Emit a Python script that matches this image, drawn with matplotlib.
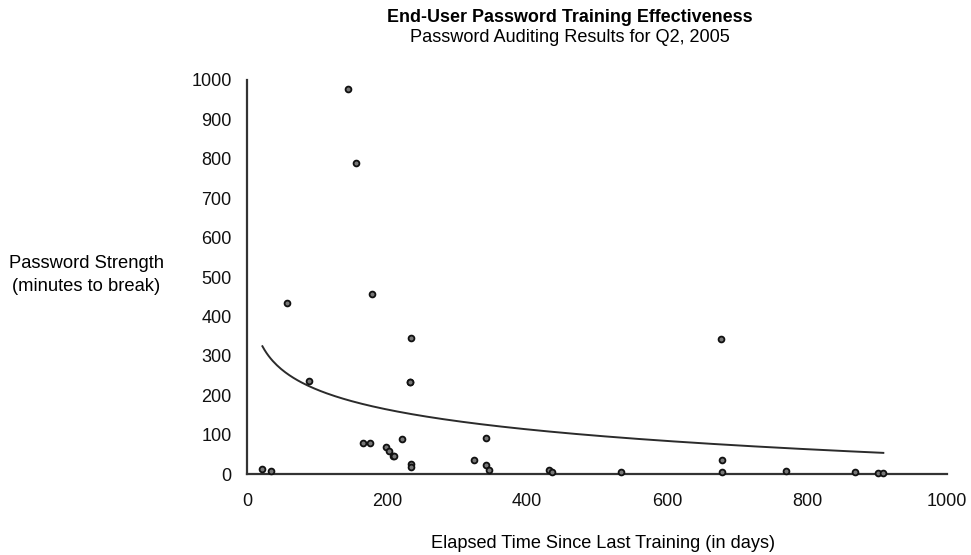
import matplotlib

matplotlib.use("Agg")
import matplotlib.pyplot as plt
import numpy as np

# elapsed days since last training, and minutes to break the password
days = [22, 34, 57, 88, 144, 156, 166, 176, 178, 199, 203, 208, 210, 222,
        233, 233, 234, 234, 234, 324, 342, 342, 345, 432, 436, 534,
        677, 678, 679, 770, 868, 901, 909]
minutes = [14, 8, 435, 235, 977, 789, 79, 78, 456, 69, 58, 46, 46, 90,
           234, 233, 345, 25, 19, 36, 91, 24, 11, 11, 6, 6,
           343, 36, 4, 8, 4, 2, 2]

x_ticks = [0, 200, 400, 600, 800, 1000]
y_ticks = [0, 100, 200, 300, 400, 500, 600, 700, 800, 900, 1000]

plt.rcParams["font.family"] = ["Liberation Sans", "DejaVu Sans"]

fig = plt.figure(figsize=(9.71, 5.55), dpi=100)
ax = fig.add_axes([0.2544, 0.1459, 0.7209, 0.71])

# logarithmic trendline over the data range
x = np.array(days, dtype=float)
y = np.array(minutes, dtype=float)
b, a = np.polyfit(np.log(x), y, 1)
xs = np.linspace(x.min(), x.max(), 300)
ax.plot(xs, a + b * np.log(xs), color="#2b2b2b", lw=1.4, zorder=2)

ax.plot(days, minutes, "o", ms=4.2, mfc="#777777", mec="#111111", mew=1.3,
        ls="none", zorder=3, clip_on=False)

ax.set_xlim(0, 1000)
ax.set_ylim(0, 1000)
ax.set_xticks(x_ticks)
ax.set_yticks(y_ticks)
ax.tick_params(length=0, labelsize=13, colors="#111111", pad=11)
ax.tick_params(axis="x", pad=14)
for side in ("top", "right"):
    ax.spines[side].set_visible(False)
for side in ("left", "bottom"):
    ax.spines[side].set_linewidth(1.6)
    ax.spines[side].set_color("#333333")

fig.text(0.587, 0.969, "End-User Password Training Effectiveness",
         ha="center", va="center", fontsize=12.9, fontweight="bold")
fig.text(0.587, 0.932, "Password Auditing Results for Q2, 2005",
         ha="center", va="center", fontsize=13.1)
fig.text(0.0886, 0.5045, "Password Strength\n(minutes to break)",
         ha="center", va="center", fontsize=13.2, linespacing=1.4)
fig.text(0.621, 0.02, "Elapsed Time Since Last Training (in days)",
         ha="center", va="center", fontsize=13.1)

fig.savefig("out.png", dpi=100)
